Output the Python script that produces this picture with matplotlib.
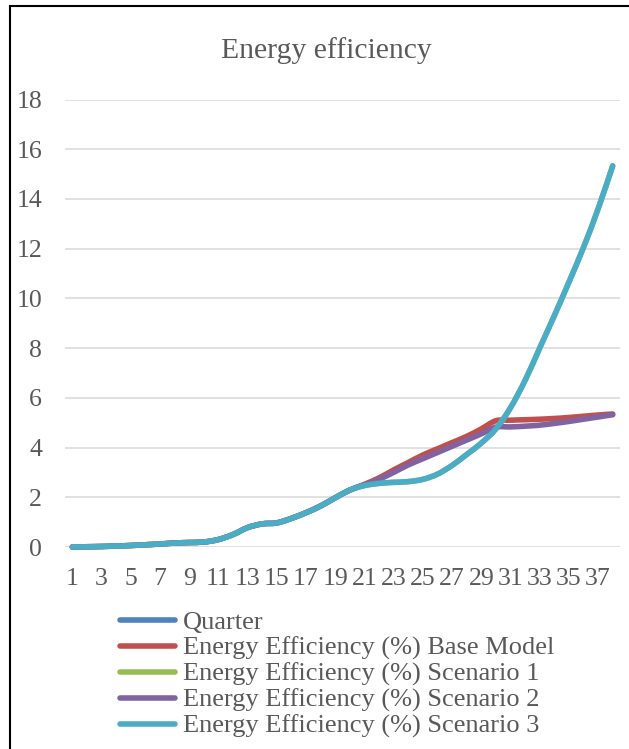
import matplotlib
matplotlib.use("Agg")
import matplotlib.pyplot as plt
from matplotlib.path import Path
from matplotlib.patches import PathPatch
from matplotlib.lines import Line2D
import numpy as np

plt.rcParams['font.family'] = ['Liberation Serif', 'DejaVu Serif']

# Quarters 1..38
quarters = list(range(1, 39))
tick_labels = [str(q) for q in range(1, 38, 2)]

base_model = [0.00, 0.01, 0.02, 0.04, 0.06, 0.09, 0.12, 0.16, 0.18, 0.20,
              0.30, 0.50, 0.78, 0.93, 0.97, 1.15, 1.38, 1.65, 1.98, 2.29,
              2.52, 2.78, 3.10, 3.40, 3.70, 3.95, 4.20, 4.45, 4.75, 5.08,
              5.10, 5.12, 5.14, 5.17, 5.21, 5.26, 5.31, 5.35]
scenario_2 = [0.00, 0.01, 0.02, 0.04, 0.06, 0.09, 0.12, 0.16, 0.18, 0.20,
              0.30, 0.50, 0.78, 0.93, 0.97, 1.15, 1.38, 1.65, 1.98, 2.29,
              2.50, 2.72, 3.00, 3.30, 3.55, 3.80, 4.05, 4.30, 4.55, 4.82,
              4.83, 4.86, 4.90, 4.97, 5.05, 5.14, 5.23, 5.32]
scenario_3 = [0.00, 0.01, 0.02, 0.04, 0.06, 0.09, 0.12, 0.16, 0.18, 0.20,
              0.30, 0.50, 0.78, 0.93, 0.97, 1.15, 1.38, 1.65, 1.98, 2.29,
              2.47, 2.56, 2.60, 2.63, 2.72, 2.93, 3.28, 3.72, 4.18, 4.75,
              5.60, 6.70, 8.00, 9.30, 10.65, 12.05, 13.60, 15.33]
scenario_1 = list(scenario_3)

labels = ["Quarter",
          "Energy Efficiency (%) Base Model",
          "Energy Efficiency (%) Scenario 1",
          "Energy Efficiency (%) Scenario 2",
          "Energy Efficiency (%) Scenario 3"]
colors = ["#4F81BD", "#C0504D", "#9BBB59", "#8064A2", "#4BACC6"]
series = [None, base_model, scenario_1, scenario_2, scenario_3]

TEXT = "#595959"
LW = 4.0


def smooth_path(xs, ys):
    """Cubic Bezier path through the points (Catmull-Rom style smoothing)."""
    pts = np.column_stack([xs, ys]).astype(float)
    n = len(pts)
    verts = [pts[0]]
    codes = [Path.MOVETO]
    for i in range(n - 1):
        p0 = pts[i - 1] if i > 0 else pts[i]
        p1 = pts[i]
        p2 = pts[i + 1]
        p3 = pts[i + 2] if i + 2 < n else pts[i + 1]
        c1 = p1 + (p2 - p0) / 6.0
        c2 = p2 - (p3 - p1) / 6.0
        verts += [c1, c2, p2]
        codes += [Path.CURVE4] * 3
    return Path(verts, codes)


fig = plt.figure(figsize=(6.29, 7.49), dpi=100)
W, H = 629, 749
ax = fig.add_axes([65 / W, 1 - 547 / H, (620 - 65) / W, (547 - 99.5) / H])

for data, col in zip(series, colors):
    if data is None:
        continue
    patch = PathPatch(smooth_path(quarters, data), facecolor="none",
                      edgecolor=col, lw=LW, capstyle="round",
                      joinstyle="round", clip_on=False, zorder=3)
    ax.add_patch(patch)

ax.set_xlim(0.5, 38.5)
ax.set_ylim(0, 18)
ax.set_yticks(np.arange(0, 19, 2))
ax.set_xticks(range(1, 38, 2))
ax.set_xticklabels(tick_labels)
ax.yaxis.grid(True, color="#D9D9D9", lw=1.1)
ax.set_axisbelow(True)
for s in ax.spines.values():
    s.set_visible(False)
ax.tick_params(axis="y", length=0, pad=16.6, labelsize=18.5, labelcolor=TEXT)
ax.tick_params(axis="x", length=0, pad=15, labelsize=18.5, labelcolor=TEXT)

fig.text(326.5 / W, 1 - 58.5 / H, "Energy efficiency", ha="center",
         va="baseline", fontsize=21.3, color=TEXT)

handles = [Line2D([], [], color=c, lw=LW, solid_capstyle="round")
           for c in colors]
fig.legend(handles, labels, loc="upper left",
           bbox_to_anchor=(120.5 / W, 1 - 611 / H), frameon=False,
           fontsize=19, handlelength=2.08, handletextpad=0.28,
           labelspacing=0.08, borderpad=0, borderaxespad=0,
           labelcolor=TEXT)

# chart frame (left and top edges)
fig.add_artist(Line2D([10 / W, 10 / W], [0, 1 - 6 / H], color="black",
                      lw=1.5, transform=fig.transFigure))
fig.add_artist(Line2D([10 / W, 1], [1 - 6 / H, 1 - 6 / H], color="black",
                      lw=1.5, transform=fig.transFigure))

fig.savefig("out.png", dpi=100)
